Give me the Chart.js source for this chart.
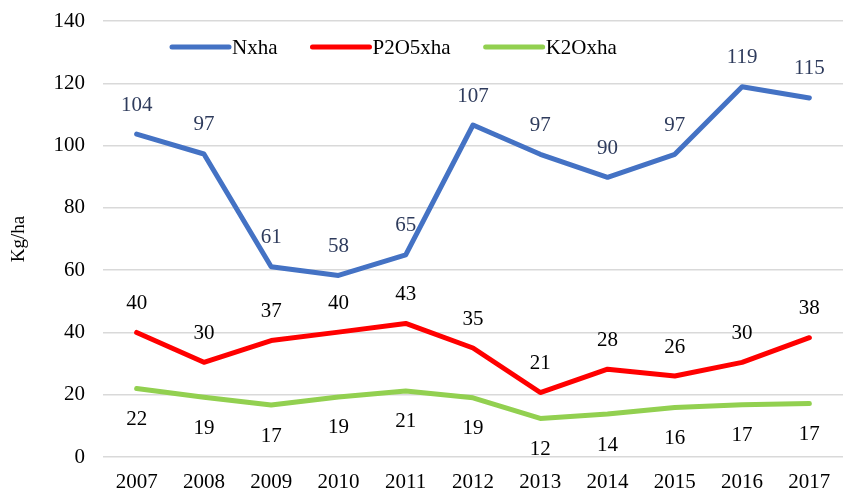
<!DOCTYPE html>
<html>
<head>
<meta charset="utf-8">
<script src="https://cdn.jsdelivr.net/npm/chart.js@4/dist/chart.umd.min.js"></script>
<style>
  html, body { margin: 0; padding: 0; background: #fff; }
</style>
</head>
<body>
<canvas id="mycanvas" width="843" height="490"></canvas>
<script>
// data
var years = ['2007', '2008', '2009', '2010', '2011', '2012', '2013', '2014', '2015', '2016', '2017'];
var nxha = [103.7, 97.3, 61.1, 58.3, 64.9, 106.6, 97.2, 89.8, 97.2, 118.9, 115.3];
var p2o5xha = [40.0, 30.4, 37.4, 40.1, 42.9, 35.0, 20.7, 28.2, 26.0, 30.4, 38.3];
var k2oxha = [22.0, 19.2, 16.7, 19.3, 21.2, 19.0, 12.4, 13.8, 15.9, 16.8, 17.2];
var yTicks = [0, 20, 40, 60, 80, 100, 120, 140];

var serif = '"Liberation Serif", "Times New Roman", serif';

// value labels above / below each point + legend drawn inside the plot
var labelPlugin = {
  id: 'valueLabels',
  afterDatasetsDraw: function(chart) {
    var ctx = chart.ctx;
    ctx.save();
    ctx.font = '21px ' + serif;
    ctx.textAlign = 'center';
    ctx.textBaseline = 'middle';
    chart.data.datasets.forEach(function(ds, i) {
      var meta = chart.getDatasetMeta(i);
      meta.data.forEach(function(pt, j) {
        ctx.fillStyle = ds.labelColor;
        var dy = ds.labelBelow ? 31 : -29;
        ctx.fillText(Math.round(ds.data[j]), pt.x, pt.y + dy);
      });
    });

    // legend
    var x = chart.chartArea.left + 69;
    var y = 47;
    ctx.textAlign = 'left';
    chart.data.datasets.forEach(function(ds) {
      ctx.strokeStyle = ds.borderColor;
      ctx.lineWidth = 5;
      ctx.lineCap = 'round';
      ctx.beginPath();
      ctx.moveTo(x, y);
      ctx.lineTo(x + 57, y);
      ctx.stroke();
      ctx.fillStyle = '#000';
      ctx.fillText(ds.label, x + 60, y + 1);
      x = x + 60 + ctx.measureText(ds.label).width + 35;
    });
    ctx.restore();
  }
};

var chartdata = {
  labels: years,
  datasets: [
    {
      label: 'Nxha',
      data: nxha,
      borderColor: '#4472C4',
      labelColor: '#2E3B5C',
      labelBelow: false
    },
    {
      label: 'P2O5xha',
      data: p2o5xha,
      borderColor: '#FF0000',
      labelColor: '#000000',
      labelBelow: false
    },
    {
      label: 'K2Oxha',
      data: k2oxha,
      borderColor: '#92D050',
      labelColor: '#000000',
      labelBelow: true
    }
  ]
};

var ctx = document.getElementById('mycanvas');

var lineGraph = new Chart(ctx, {
  type: 'line',
  data: chartdata,
  plugins: [labelPlugin],
  options: {
    responsive: false,
    animation: false,
    layout: { padding: { top: 21, right: -7, bottom: 0, left: 0 } },
    elements: {
      line: { borderWidth: 5, borderCapStyle: 'round', borderJoinStyle: 'round', tension: 0, fill: false },
      point: { radius: 0, hoverRadius: 0 }
    },
    plugins: {
      legend: { display: false },
      tooltip: { enabled: false }
    },
    scales: {
      x: {
        offset: true,
        grid: { display: false },
        border: { display: false },
        ticks: { color: '#000', font: { family: serif, size: 21 }, padding: 5, maxRotation: 0 },
        afterFit: function(scale) {
          scale.height = 33;
          scale.paddingLeft = 0;
          scale.paddingRight = 0;
        }
      },
      y: {
        min: 0,
        max: 140,
        afterBuildTicks: function(scale) {
          scale.ticks = yTicks.map(function(v) { return { value: v }; });
        },
        grid: { color: '#D9D9D9', lineWidth: 1.5, drawTicks: false },
        border: { display: false },
        ticks: { color: '#000', font: { family: serif, size: 21 }, padding: 18 },
        title: {
          display: true,
          text: 'Kg/ha',
          color: '#000',
          font: { family: serif, size: 19 },
          padding: { top: 8, bottom: 0 }
        },
        afterFit: function(scale) {
          scale.width = 103;
          scale.paddingTop = 0;
          scale.paddingBottom = 0;
        }
      }
    }
  }
});
</script>
</body>
</html>
